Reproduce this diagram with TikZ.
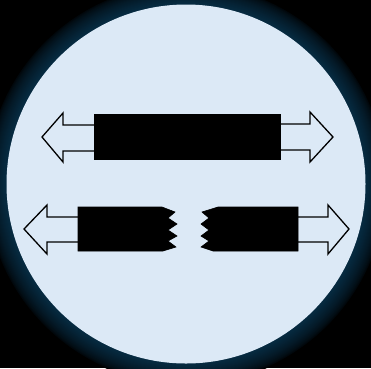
\documentclass[tikz,border=0pt]{standalone}
\definecolor{disc}{HTML}{DCE9F6}
\definecolor{glow}{HTML}{062A40}
\tikzset{
  arrowshape/.style={fill=disc, draw=black, line width=1.3pt, line join=miter},
  barshape/.style={fill=black, draw=black, line width=0.6pt},
}
\begin{document}
\begin{tikzpicture}[x=1pt, y=-1pt]
  % background and bounding box
  \fill[black] (0,0) rectangle (371,368);
  \useasboundingbox (0,0) rectangle (371,368);
  % soft glow round the disc
  \foreach \i in {0,...,20} {
    \pgfmathsetmacro{\r}{201-\i}
    \pgfmathsetmacro{\k}{100*(\i/20)^0.6}
    \fill[glow!\k!black] (186,184) circle (\r);
  }
  \fill[disc] (186,184) circle (179.5);

  % whole rod with outward arrows
  \draw[arrowshape] (96,125) -- (63,125) -- (63,113) -- (42,137) -- (63,162) -- (63,151) -- (96,151) -- cycle;
  \draw[arrowshape] (278,124) -- (310,124) -- (310,112) -- (333,137) -- (310,162) -- (310,150) -- (278,150) -- cycle;
  \fill[barshape] (94,114) rectangle (280,159);

  % broken rod: left piece
  \draw[arrowshape] (80,217) -- (47,217) -- (47,205) -- (24,229) -- (47,254) -- (47,242) -- (80,242) -- cycle;
  \fill[barshape] (78,207) -- (162,207) -- (175,212) -- (168,218) -- (177,224) -- (168,230)
    -- (177,236) -- (168,241) -- (176,247) -- (163,251) -- (78,251) -- cycle;
  % broken rod: right piece
  \draw[arrowshape] (296,217) -- (328,217) -- (328,205) -- (349,229) -- (328,254) -- (328,242) -- (296,242) -- cycle;
  \fill[barshape] (218,207) -- (298,207) -- (298,251) -- (213,251) -- (201,247) -- (209,241)
    -- (201,236) -- (209,230) -- (201,224) -- (209,218) -- (202,212) -- cycle;
\end{tikzpicture}
\end{document}
